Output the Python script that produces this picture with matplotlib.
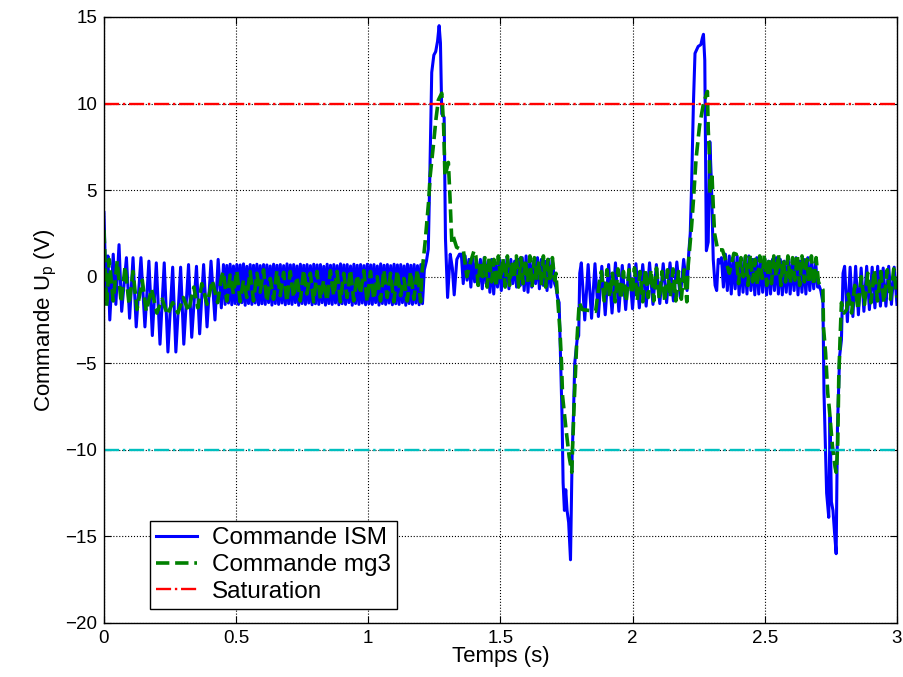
import numpy as np
import matplotlib
matplotlib.use("Agg")
import matplotlib.pyplot as plt

plt.rcParams['font.family'] = ['Liberation Sans', 'DejaVu Sans']

# Commande ISM (blue) - explicit pieces
ism_t_a = [0.000, 0.008, 0.015, 0.022, 0.035, 0.045, 0.057, 0.067, 0.085, 0.097, 0.110, 0.122,
           0.140, 0.155, 0.170, 0.183, 0.198, 0.212, 0.228, 0.242, 0.260, 0.272, 0.290, 0.302,
           0.320, 0.332, 0.350, 0.362, 0.377, 0.390, 0.405, 0.420, 0.432, 0.444]
ism_v_a = [3.7, -1.0, 1.2, -2.5, 1.3, -1.6, 1.85, -2.0, 1.1, -2.4, 1.1, -2.9,
           1.1, -2.9, 0.9, -3.4, 0.8, -3.9, 0.8, -4.35, 0.55, -4.35, 0.55, -3.9,
           0.7, -3.5, 0.6, -3.3, 0.7, -2.9, 0.9, -2.5, 1.0, -1.8]

ism_t_b = [1.212, 1.220, 1.227, 1.233, 1.240, 1.248, 1.255, 1.262, 1.268, 1.273, 1.278, 1.287,
           1.292, 1.300, 1.310, 1.318, 1.325, 1.335, 1.345]
ism_v_b = [0.4, 0.9, 1.6, 6.0, 11.8, 12.8, 13.0, 13.6, 14.5, 13.5, 9.4, 9.2,
           2.2, -1.2, 1.3, 0.5, -1.05, 1.0, 1.3]

ism_t_c = [1.710, 1.716, 1.722, 1.728, 1.733, 1.737, 1.742, 1.747, 1.752, 1.758, 1.765, 1.771,
           1.776, 1.781, 1.790, 1.796, 1.800]
ism_v_c = [-0.6, -1.2, -1.5, -5.0, -8.1, -11.9, -13.5, -12.3, -13.5, -14.2, -16.35, -10.5,
           -8.1, -5.0, -3.65, -3.4, 0.2]

ism_t_d = [2.212, 2.218, 2.223, 2.230, 2.236, 2.248, 2.258, 2.264, 2.268, 2.273, 2.279, 2.286,
           2.292, 2.298, 2.305, 2.312, 2.318, 2.324, 2.330]
ism_v_d = [1.3, 2.5, 5.2, 10.0, 12.9, 13.3, 13.4, 13.8, 14.0, 12.5, 1.5, 2.0,
           7.8, 5.5, 1.0, -0.5, -0.8, 1.0, 0.8]

ism_t_e = [2.705, 2.712, 2.720, 2.724, 2.734, 2.742, 2.747, 2.752, 2.758, 2.764, 2.770, 2.775,
           2.783, 2.790, 2.796]
ism_v_e = [-0.5, -0.8, -1.5, -6.7, -12.5, -13.9, -8.1, -13.0, -13.5, -14.8, -16.0, -8.7,
           -4.6, -3.65, 0.2]

# Commande ISM - chattering bands (peaks / troughs)
ism_top1 = [0.70, 0.65, 0.72, 0.62, 0.70, 0.68, 0.74, 0.60, 0.70, 0.66,
            0.72, 0.64, 0.70, 0.68, 0.62, 0.72, 0.66, 0.70, 0.64, 0.74,
            0.68, 0.70, 0.62, 0.72, 0.66, 0.70, 0.64, 0.72, 0.68, 0.70,
            0.60, 0.72, 0.66, 0.70, 0.64, 0.74, 0.68, 0.70, 0.62, 0.72,
            0.66, 0.70, 0.64, 0.72, 0.68, 0.70, 0.62, 0.74, 0.66, 0.70,
            0.64, 0.72, 0.68, 0.70, 0.62, 0.72, 0.66, 0.70, 0.64, 0.70]
ism_bot1 = [-1.60, -1.52, -1.62, -1.55, -1.60, -1.50, -1.65, -1.55, -1.60, -1.52,
            -1.62, -1.56, -1.60, -1.50, -1.64, -1.55, -1.60, -1.52, -1.62, -1.56,
            -1.60, -1.50, -1.65, -1.55, -1.60, -1.52, -1.62, -1.56, -1.60, -1.50,
            -1.64, -1.55, -1.60, -1.52, -1.62, -1.56, -1.60, -1.50, -1.65, -1.55,
            -1.60, -1.52, -1.62, -1.56, -1.60, -1.50, -1.64, -1.55, -1.60, -1.52,
            -1.62, -1.56, -1.60, -1.50, -1.65, -1.55, -1.60, -1.52, -1.62, -1.56]
ism_top2 = [1.3, 1.2, 1.0, 1.1, 0.9, 1.0, 1.1, 0.9, 1.0, 0.8, 1.0, 0.9, 1.1,
            1.0, 0.9, 1.0, 1.1, 1.2, 1.0, 0.9, 1.1, 1.0, 0.9, 1.0, 0.8]
ism_bot2 = [-0.4, -0.2, -0.6, -0.3, -0.5, -0.7, -0.4, -0.9, -1.0, -0.6, -0.8, -0.5, -0.7,
            -0.4, -0.6, -0.5, -0.8, -0.9, -0.6, -0.4, -0.7, -0.5, -0.8, -0.6, -0.4]
ism_top3 = [0.8, 0.7, 0.75, 0.6, 0.7, 0.8, 0.65, 0.7, 0.75, 0.7, 0.8, 0.7, 0.75, 0.8, 0.85, 1.0]
ism_bot3 = [-2.5, -2.4, -2.3, -2.2, -2.1, -2.0, -1.9, -1.85, -1.8, -1.7, -1.6, -1.55, -1.5, -1.4,
            -1.2, -0.8]
ism_top4 = [1.1, 1.3, 1.2, 1.1, 1.2, 1.0, 1.1, 1.2, 1.0, 1.1, 1.0, 1.1, 0.9,
            1.0, 1.1, 1.0, 0.9, 1.1, 1.0, 1.1, 0.9, 1.0, 1.1, 0.9, 0.8]
ism_bot4 = [-0.6, -0.8, -1.0, -0.7, -1.05, -0.9, -1.0, -0.8, -1.05, -1.0, -0.9, -1.05, -1.0,
            -0.8, -1.0, -1.05, -0.9, -1.0, -0.8, -1.05, -0.9, -1.0, -0.8, -0.7, -0.6]
ism_top5 = [0.6, 0.55, 0.6, 0.5, 0.6, 0.55, 0.6, 0.5, 0.6, 0.55]
ism_bot5 = [-2.6, -2.3, -2.2, -2.0, -1.9, -1.8, -1.7, -1.7, -1.6, -1.6]

# Commande mg3 (green) - explicit pieces
mg3_t_a = [0.000, 0.010, 0.020, 0.035, 0.050, 0.065, 0.080, 0.095, 0.110, 0.125, 0.145, 0.160,
           0.180, 0.200, 0.220, 0.240, 0.260, 0.280, 0.300, 0.320, 0.340, 0.355, 0.370, 0.390,
           0.410, 0.430, 0.445]
mg3_v_a = [2.7, -1.7, 1.0, -1.4, 0.9, -1.5, 0.6, -1.6, 0.3, -1.9, -0.2, -2.0,
           -0.7, -2.1, -1.3, -2.2, -1.5, -2.1, -1.2, -2.0, -0.6, -1.8, -0.4, -1.6,
           -0.2, -1.5, 0.0]

mg3_t_b = [1.203, 1.215, 1.228, 1.234, 1.247, 1.256, 1.265, 1.278, 1.285, 1.290, 1.303, 1.309,
           1.316, 1.322, 1.334, 1.360, 1.373, 1.386, 1.400]
mg3_v_b = [0.2, 2.0, 4.3, 5.8, 7.7, 9.1, 10.2, 10.6, 8.7, 5.8, 6.6, 4.6,
           2.0, 2.3, 1.7, 1.5, 0.0, 0.8, 1.5]

mg3_t_c = [1.710, 1.714, 1.725, 1.731, 1.735, 1.748, 1.760, 1.770, 1.773, 1.780, 1.788, 1.798,
           1.810, 1.860, 1.874]
mg3_v_c = [0.2, -0.75, -3.1, -5.0, -6.9, -8.8, -10.4, -11.3, -9.8, -6.9, -4.0, -1.5,
           -1.9, -2.0, -0.35]

mg3_t_d = [2.210, 2.223, 2.230, 2.240, 2.253, 2.268, 2.283, 2.286, 2.290, 2.293, 2.300, 2.305,
           2.310, 2.315, 2.322, 2.340, 2.366, 2.383]
mg3_v_d = [0.6, 2.9, 4.4, 6.8, 8.7, 10.0, 10.7, 8.5, 7.2, 4.8, 6.0, 4.1,
           2.5, 2.1, 1.55, 1.55, 0.2, 1.35]

mg3_t_e = [2.709, 2.720, 2.722, 2.730, 2.738, 2.744, 2.750, 2.756, 2.766, 2.770, 2.773, 2.776,
           2.778, 2.780, 2.785, 2.790, 2.800, 2.810]
mg3_v_e = [-0.5, -0.75, -2.9, -4.4, -6.7, -7.6, -8.7, -9.8, -11.0, -11.3, -10.6, -9.6,
           -7.6, -5.8, -3.5, -1.5, -2.1, -1.9]

# Commande mg3 - chattering bands
mg3_top1 = [0.3, 0.1, 0.35, -0.2, 0.3, 0.2, 0.4, -0.1, 0.35, 0.25, 0.3, 0.0, 0.4, 0.2, 0.3,
            -0.2, 0.35, 0.3, 0.2, 0.4, 0.1, 0.35, 0.3, 0.0, 0.4, 0.2, 0.35, -0.1, 0.3, 0.4]
mg3_bot1 = [-1.4, -1.0, -1.45, -1.2, -1.4, -0.9, -1.45, -1.3, -1.1, -1.45, -1.2, -1.4, -1.0, -1.45,
            -1.3, -1.4, -1.1, -1.45, -1.2, -1.4, -1.0, -1.45, -1.3, -1.4, -1.2, -1.45, -1.1, -1.4,
            -1.3, -1.45]
mg3_top2 = [1.2, 0.9, 1.1, 1.2, 1.0, 1.2, 1.1, 1.2, 0.9, 1.2, 1.1, 1.0, 1.2, 1.1, 0.9, 1.2, 1.0, 1.1]
mg3_bot2 = [-0.5, 0.0, -0.6, -0.3, -0.6, -0.2, -0.6, -0.5, -0.1, -0.6, -0.4, -0.3, -0.6, -0.2,
            -0.5, -0.6, -0.3, -0.2]
mg3_top3 = [0.3, 0.4, 0.2, 0.45, 0.3, 0.4, 0.5, 0.3, 0.45, 0.4, 0.5, 0.3, 0.4, 0.45, 0.3, 0.4]
mg3_bot3 = [-1.4, -1.2, -1.45, -1.3, -1.45, -1.0, -1.4, -1.45, -1.2, -1.4, -1.3, -1.45, -1.2,
            -1.4, -1.3, -1.45]
mg3_top4 = [1.3, 1.1, 1.2, 1.3, 1.0, 1.2, 1.3, 1.1, 1.2, 1.3, 1.0, 1.2, 1.1, 1.3, 1.2, 1.0, 1.2, 1.1]
mg3_bot4 = [-0.4, 0.0, -0.5, -0.3, -0.5, -0.1, -0.5, -0.4, 0.0, -0.5, -0.3, -0.4, -0.2, -0.5,
            -0.3, -0.4, -0.5, -0.3]
mg3_top5 = [-1.0, -0.5, 0.0, 0.2, 0.4, 0.3, 0.4, 0.45]
mg3_bot5 = [-2.1, -1.9, -1.6, -1.5, -1.4, -1.5, -1.3, -1.2]

sat_levels = [10, -10]
sat_colors = ['r', 'c']

xticks = [0, 0.5, 1, 1.5, 2, 2.5, 3]
xtick_labels = ['0', '0.5', '1', '1.5', '2', '2.5', '3']
yticks = [-20, -15, -10, -5, 0, 5, 10, 15]


def band(t0, t1, tops, bots):
    v = np.column_stack([tops, bots]).ravel()
    return list(np.linspace(t0, t1, len(v))), list(v)


pieces_ism = [
    (ism_t_a, ism_v_a),
    band(0.452, 1.205, ism_top1, ism_bot1),
    (ism_t_b, ism_v_b),
    band(1.352, 1.705, ism_top2, ism_bot2),
    (ism_t_c, ism_v_c),
    band(1.806, 2.206, ism_top3, ism_bot3),
    (ism_t_d, ism_v_d),
    band(2.336, 2.700, ism_top4, ism_bot4),
    (ism_t_e, ism_v_e),
    band(2.802, 3.0, ism_top5, ism_bot5),
]
pieces_mg3 = [
    (mg3_t_a, mg3_v_a),
    band(0.452, 1.198, mg3_top1, mg3_bot1),
    (mg3_t_b, mg3_v_b),
    band(1.407, 1.705, mg3_top2, mg3_bot2),
    (mg3_t_c, mg3_v_c),
    band(1.882, 2.205, mg3_top3, mg3_bot3),
    (mg3_t_d, mg3_v_d),
    band(2.392, 2.703, mg3_top4, mg3_bot4),
    (mg3_t_e, mg3_v_e),
    band(2.816, 3.0, mg3_top5, mg3_bot5),
]

t_ism = np.concatenate([p[0] for p in pieces_ism])
u_ism = np.concatenate([p[1] for p in pieces_ism])
t_mg3 = np.concatenate([p[0] for p in pieces_mg3])
u_mg3 = np.concatenate([p[1] for p in pieces_mg3])

fig = plt.figure(figsize=(9.04, 6.77), dpi=100)
ax = fig.add_axes([0.115, 0.0798, 0.8772, 0.8951])

ax.plot(t_ism, u_ism, color='b', lw=2.2, label='Commande ISM')
ax.plot(t_mg3, u_mg3, color=(0, 0.5, 0), lw=2.6, ls='--', label='Commande mg3')
ax.plot([0, 3], [sat_levels[0]] * 2, color=sat_colors[0], lw=1.7, ls='-.', label='Saturation')
ax.plot([0, 3], [sat_levels[1]] * 2, color=sat_colors[1], lw=1.7, ls='-.')

ax.set_xlim(0, 3)
ax.set_ylim(-20, 15)
ax.set_xticks(xticks)
ax.set_xticklabels(xtick_labels)
ax.set_yticks(yticks)
ax.grid(True, color='k', ls=':', lw=0.8)
ax.tick_params(direction='in', top=True, right=True, length=5, labelsize=13.5, pad=5)
for s in ax.spines.values():
    s.set_linewidth(1.0)

ax.set_xlabel('Temps (s)', fontsize=16, labelpad=-1)
ax.set_ylabel(r'Commande U$_\mathregular{p}$ (V)', fontsize=16, labelpad=4)

leg = ax.legend(loc='lower left', bbox_to_anchor=(0.058, 0.023), borderaxespad=0, fontsize=17.5,
                fancybox=False, edgecolor='k', framealpha=1, handlelength=1.7,
                borderpad=0.25, labelspacing=0.2, handletextpad=0.6)
leg.get_frame().set_linewidth(1.0)

fig.savefig('out.png', dpi=100)
